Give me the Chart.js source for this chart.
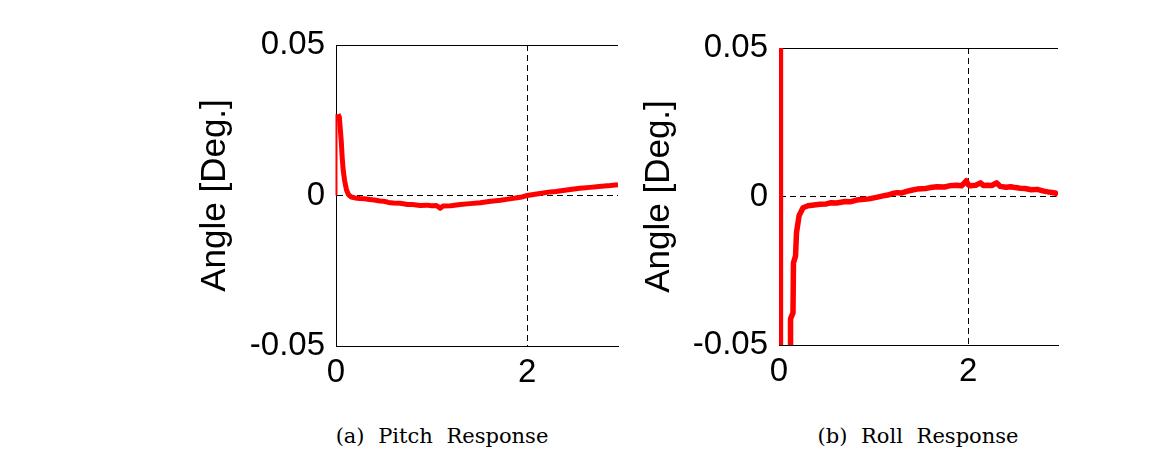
<!DOCTYPE html>
<html>
<head>
<meta charset="utf-8">
<script src="https://cdn.jsdelivr.net/npm/chart.js@4.4.0/dist/chart.umd.min.js"></script>
<style>
  body { margin: 0; background: #fff; width: 1174px; height: 455px; position: relative; overflow: hidden; }
  canvas { position: absolute; top: 0; }
  .cap { position: absolute; top: 424px; width: 300px; text-align: center; font-family: "DejaVu Serif", serif; font-size: 21px; line-height: 24px; word-spacing: 7px; color: #000; }
</style>
</head>
<body>
<canvas id="pitch" width="450" height="400" style="left:180px"></canvas>
<canvas id="roll" width="450" height="400" style="left:630px"></canvas>
<div class="cap" style="left:292px">(a) Pitch Response</div>
<div class="cap" style="left:768px">(b) Roll Response</div>
<script>
// axis ticks
const xTicks = [0, 2];
const yTicks = [-0.05, 0, 0.05];
const xMax = 2.95;

// pitch: short thin rise at t=0, then the thick response
const pitchEdgeX = [0.005, 0.005];
const pitchEdgeY = [0, 0.027];
const pitchX = [0.021, 0.035, 0.045, 0.055, 0.065, 0.075, 0.09, 0.11, 0.13, 0.16, 0.2, 0.25, 0.3, 0.35, 0.4, 0.46, 0.5, 0.55, 0.6, 0.67, 0.75, 0.8, 0.88, 0.95, 1.0, 1.05, 1.09, 1.12, 1.2, 1.3, 1.4, 1.51, 1.6, 1.72, 1.8, 1.93, 2.0, 2.1, 2.24, 2.3, 2.45, 2.55, 2.66, 2.75, 2.87, 2.95];
const pitchY = [0.027, 0.026, 0.022, 0.018, 0.0125, 0.0085, 0.005, 0.0018, 0.0003, -0.0005, -0.0008, -0.001, -0.0011, -0.0013, -0.0015, -0.0018, -0.0019, -0.0023, -0.0025, -0.0026, -0.003, -0.003, -0.0033, -0.0032, -0.0034, -0.0033, -0.0042, -0.0035, -0.0034, -0.003, -0.0027, -0.0024, -0.002, -0.0016, -0.0012, -0.0006, 0.0, 0.0005, 0.0012, 0.0013, 0.002, 0.0024, 0.0027, 0.003, 0.0033, 0.0036];

// roll: spike at t=0 off the scale, then recovery from below -0.05
const rollX = [0.015, 0.015, 0.122, 0.122, 0.148, 0.153, 0.175, 0.185, 0.212, 0.254, 0.307, 0.434, 0.5, 0.55, 0.61, 0.7, 0.75, 0.82, 0.9, 0.95, 1.03, 1.1, 1.15, 1.2, 1.25, 1.3, 1.35, 1.4, 1.46, 1.55, 1.6, 1.67, 1.75, 1.8, 1.88, 1.93, 1.98, 2.0, 2.02, 2.08, 2.13, 2.16, 2.2, 2.25, 2.3, 2.34, 2.4, 2.45, 2.5, 2.55, 2.6, 2.67, 2.73, 2.8, 2.87, 2.92, 2.95];
const rollY = [0.2, -0.2, -0.2, -0.0412, -0.0392, -0.0223, -0.02, -0.0122, -0.0065, -0.0038, -0.0031, -0.0026, -0.0025, -0.0021, -0.0022, -0.0017, -0.0018, -0.0012, -0.0009, -0.0008, -0.0003, 0.0002, 0.0005, 0.001, 0.0013, 0.0012, 0.0017, 0.0021, 0.0025, 0.0027, 0.003, 0.0033, 0.0032, 0.0036, 0.0038, 0.0036, 0.0053, 0.004, 0.0036, 0.0038, 0.0046, 0.0037, 0.0038, 0.0037, 0.0046, 0.0034, 0.0031, 0.0033, 0.003, 0.0028, 0.0027, 0.0023, 0.0024, 0.0018, 0.0014, 0.0012, 0.0006];

function pts(xs, ys) {
  return xs.map((x, i) => ({ x: x, y: ys[i] }));
}

// top edge of the frame
const topFrame = {
  id: "topFrame",
  beforeDatasetsDraw(chart) {
    const { ctx, chartArea } = chart;
    ctx.save();
    ctx.strokeStyle = "#000";
    ctx.lineWidth = 1;
    ctx.beginPath();
    ctx.moveTo(chartArea.left, Math.round(chartArea.top) + 0.5);
    ctx.lineTo(chartArea.right, Math.round(chartArea.top) + 0.5);
    ctx.stroke();
    ctx.restore();
  },
};

function makeChart(id, datasets, box) {
  return new Chart(document.getElementById(id), {
    type: "line",
    data: { datasets: datasets },
    plugins: [topFrame],
    options: {
      responsive: false,
      animation: false,
      layout: { padding: { left: 0, right: box.right, top: box.top, bottom: 0 } },
      plugins: { legend: { display: false }, tooltip: { enabled: false } },
      elements: { point: { radius: 0 }, line: { tension: 0, borderJoinStyle: "round" } },
      scales: {
        x: {
          type: "linear",
          min: 0,
          max: xMax,
          afterBuildTicks: (s) => { s.ticks = xTicks.map((v) => ({ value: v })); },
          afterFit: (s) => { s.height = box.xh; },
          grid: { drawTicks: false, color: (c) => (c.tick && c.tick.value === 2 ? "#000" : "rgba(0,0,0,0)"), lineWidth: 1 },
          border: { color: "#000", width: 1, dash: [6, 4] },
          ticks: { color: "#000", padding: 7, maxRotation: 0, font: { family: "Liberation Sans, Arial", size: 33 }, callback: (v) => String(v) },
        },
        y: {
          min: -0.05,
          max: 0.05,
          afterBuildTicks: (s) => { s.ticks = yTicks.map((v) => ({ value: v })); },
          afterFit: (s) => { s.width = box.yw; },
          grid: { drawTicks: false, color: (c) => (c.tick && c.tick.value === 0 ? "#000" : "rgba(0,0,0,0)"), lineWidth: 1 },
          border: { color: "#000", width: 1, dash: [6, 4] },
          ticks: { color: "#000", padding: 11, font: { family: "Liberation Sans, Arial", size: 33 }, callback: (v) => String(v) },
          title: { display: true, text: "Angle [Deg.]", color: "#000", padding: { top: box.tp, bottom: 0 }, font: { family: "Liberation Sans, Arial", size: 35 } },
        },
      },
    },
  });
}

makeChart("pitch", [
  { data: pts(pitchEdgeX, pitchEdgeY), borderColor: "#ff0000", borderWidth: 2, clip: { left: 2, right: 0, top: 0, bottom: 0 } },
  { data: pts(pitchX, pitchY), borderColor: "#ff0000", borderWidth: 5, clip: 0 },
], { right: 12, top: 45, xh: 54, yw: 156, tp: 14 });

makeChart("roll", [
  { data: pts(rollX, rollY), borderColor: "#ff0000", borderWidth: 5.5, clip: 0 },
], { right: 22, top: 48, xh: 55, yw: 149, tp: 8 });
</script>
</body>
</html>
